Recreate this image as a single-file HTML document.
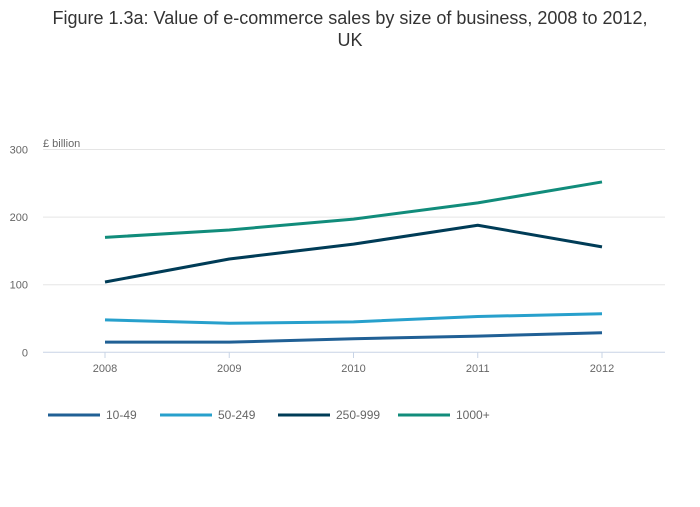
<!DOCTYPE html>
<html><head><meta charset="utf-8"><style>
body{margin:0;background:#fff;}
svg{font-family:"Liberation Sans",sans-serif;}
</style></head><body>
<svg width="700" height="502" viewBox="0 0 700 502">
<text x="350" y="24" text-anchor="middle" font-size="18" fill="#333">Figure 1.3a: Value of e-commerce sales by size of business, 2008 to 2012,</text>
<text x="350" y="46" text-anchor="middle" font-size="18" fill="#333">UK</text>
<text x="43" y="147" font-size="11" fill="#666">£ billion</text>
<g id="grid"></g><g id="lines"></g><g id="legend"></g>
</svg>
<script>
const years=["2008","2009","2010","2011","2012"];
const yTicks=[0,100,200,300];
const s10_49=[15,15,20,24,29];
const s50_249=[48,43,45,53,57];
const s250_999=[104,138,160,188,156];
const s1000=[170,181,197,221,252];
const series=[["10-49",s10_49,"#206095"],["50-249",s50_249,"#27a0cc"],["250-999",s250_999,"#003c57"],["1000+",s1000,"#118c7b"]];
const NS="http://www.w3.org/2000/svg";
const X=i=>105+i*(602-105)/4;
const Y=v=>352.3-v*(352.3-149.5)/300;
function mk(t,a,p){const e=document.createElementNS(NS,t);for(const k in a)e.setAttribute(k,a[k]);p.appendChild(e);return e;}
const g=document.getElementById('grid');
yTicks.forEach(v=>{
 const l=mk('line',{x1:43,x2:665,y1:Y(v),y2:Y(v),stroke:v===0?'#c8d4e6':'#e5e5e5','stroke-width':1},g);
 
 
 const t=mk('text',{x:28,y:Y(v)+4,'text-anchor':'end','font-size':11,fill:'#666'},g);t.textContent=v;
 
 
});
years.forEach((y,i)=>{
 const tk=mk('line',{x1:X(i),x2:X(i),y1:352,y2:358,stroke:'#c8d4e6'},g);
 
 
 const t=mk('text',{x:X(i),y:372,'text-anchor':'middle','font-size':11,fill:'#666'},g);t.textContent=y;
 
 
});
const lg=document.getElementById('lines'),le=document.getElementById('legend');
const lx=[48,160,278,398];
series.forEach(([n,d,c],k)=>{
 const p=mk('polyline',{points:d.map((v,i)=>X(i)+','+Y(v)).join(' '),fill:'none',stroke:c,'stroke-width':3,'stroke-linejoin':'round'},lg);
 
 
 const sw=mk('line',{x1:lx[k],x2:lx[k]+52,y1:415,y2:415,stroke:c,'stroke-width':3},le);
 
 
 const t=mk('text',{x:lx[k]+58,y:419,'font-size':12,fill:'#666'},le);t.textContent=n;
 
 
});
</script>
</body></html>
